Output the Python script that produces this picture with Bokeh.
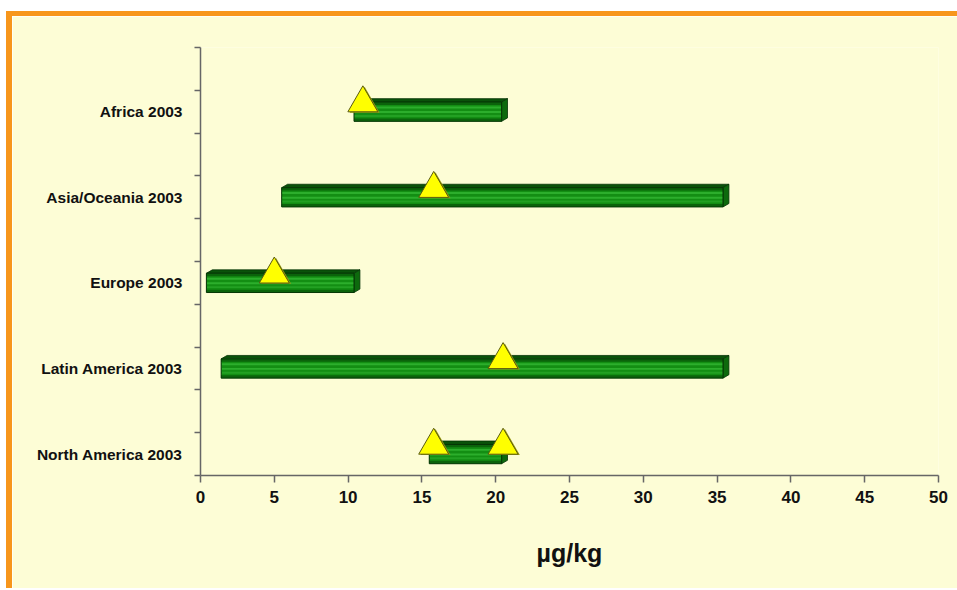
from bokeh.plotting import figure
from bokeh.models import FixedTicker, ColumnDataSource
from bokeh.embed import file_html
from bokeh.resources import INLINE

# ---- data ----
categories = ["North America 2003", "Latin America 2003", "Europe 2003",
              "Asia/Oceania 2003", "Africa 2003"]
range_low = [15.5, 1.4, 0.4, 5.5, 10.4]
range_high = [20.4, 35.4, 10.4, 35.4, 20.4]
marker_cat = ["North America 2003", "North America 2003", "Latin America 2003",
              "Europe 2003", "Asia/Oceania 2003", "Africa 2003"]
marker_val = [15.8, 20.5, 20.5, 5.0, 15.8, 11.0]
x_ticks = [0, 5, 10, 15, 20, 25, 30, 35, 40, 45, 50]
x_label = "µg/kg"

FONT = "Liberation Sans"
YELLOW = "#FDFDD6"
ORANGE = "#F7961C"

W, H = 951, 577
p = figure(width=W, height=H, x_range=(0, 50), y_range=(0, 10),
           output_backend="svg", toolbar_location=None,
           min_border_left=188, min_border_right=25,
           min_border_top=31, min_border_bottom=118,
           styles={"border-top": f"5px solid {ORANGE}",
                   "border-left": f"6px solid {ORANGE}",
                   "margin-top": "11px", "margin-left": "6px"})
p.background_fill_color = YELLOW
p.border_fill_color = YELLOW
p.outline_line_color = None
p.grid.visible = False

# category positions: each category occupies two y units
cat_y = {c: 2 * i + 0.5 for i, c in enumerate(categories)}
ys = [cat_y[c] for c in categories]

h = 0.45   # front face height (y units)
dx = 0.4   # 3D depth offset (x units)
dy = 0.08  # 3D depth offset (y units)

top_xs, top_ys, side_xs, side_ys = [], [], [], []
for lo, hi, y in zip(range_low, range_high, ys):
    t = y + h / 2
    b = y - h / 2
    top_xs.append([lo, lo + dx, hi + dx, hi])
    top_ys.append([t, t + dy, t + dy, t])
    side_xs.append([hi, hi, hi + dx, hi + dx])
    side_ys.append([b, t, t + dy, b + dy])
p.patches(top_xs, top_ys, fill_color="#0A520A", line_color="#063506", line_width=0.8)
p.patches(side_xs, side_ys, fill_color="#0D6A0D", line_color="#063506", line_width=0.8)

# front faces with horizontal stripes
src = ColumnDataSource(dict(left=range_low, right=range_high, y=ys))
p.hbar(y="y", left="left", right="right", height=h, source=src,
       fill_color="#138E13", line_color=None)
stripes = [(0.42, 0.14, "#0B630B"), (0.22, 0.10, "#2CAE2C"),
           (-0.02, 0.10, "#2CAE2C"), (-0.22, 0.10, "#23A023"),
           (-0.42, 0.14, "#0B630B")]
for off, frac, col in stripes:
    p.hbar(y=[y + off * h for y in ys], left=range_low, right=range_high,
           height=frac * h, fill_color=col, line_color=None)
p.hbar(y="y", left="left", right="right", height=h, source=src,
       fill_color=None, line_color="#063506", line_width=1)

# triangles (with a small olive shadow on the right)
my = [cat_y[c] + 0.2 for c in marker_cat]
p.scatter([v + 0.12 for v in marker_val], [y - 0.02 for y in my], marker="triangle",
          size=30, fill_color="#9A9A10", line_color=None)
p.scatter(marker_val, my, marker="triangle", size=30,
          fill_color="#FFFF00", line_color="#5A5A10", line_width=1)

# axes
xa = p.xaxis[0]
xa.ticker = FixedTicker(ticks=x_ticks)
xa.axis_label = x_label
xa.axis_label_text_font = FONT
xa.axis_label_text_font_style = "bold"
xa.axis_label_text_font_size = "25px"
xa.axis_label_text_color = "#111111"
xa.axis_label_standoff = 33
xa.major_label_text_font = FONT
xa.major_label_text_font_style = "bold"
xa.major_label_text_font_size = "17px"
xa.major_label_text_color = "#111111"
xa.major_label_standoff = 8
xa.major_tick_out = 7
xa.major_tick_in = 0
xa.minor_tick_out = 0
xa.minor_tick_in = 0
xa.axis_line_color = "#666666"
xa.major_tick_line_color = "#666666"
xa.axis_line_width = 1.5
xa.major_tick_line_width = 1.5

ya = p.yaxis[0]
ya.ticker = FixedTicker(ticks=ys, minor_ticks=list(range(0, 11)))
ya.major_label_overrides = {y: c for y, c in zip(ys, categories)}
ya.major_label_text_font = FONT
ya.major_label_text_font_style = "bold"
ya.major_label_text_font_size = "15.5px"
ya.major_label_text_color = "#111111"
ya.major_label_standoff = 12
ya.major_tick_out = 0
ya.major_tick_in = 0
ya.minor_tick_out = 6
ya.minor_tick_in = 0
ya.axis_line_color = "#666666"
ya.minor_tick_line_color = "#666666"
ya.axis_line_width = 1.5
ya.minor_tick_line_width = 1.5

open("out.html", "w").write(file_html(p, INLINE))
